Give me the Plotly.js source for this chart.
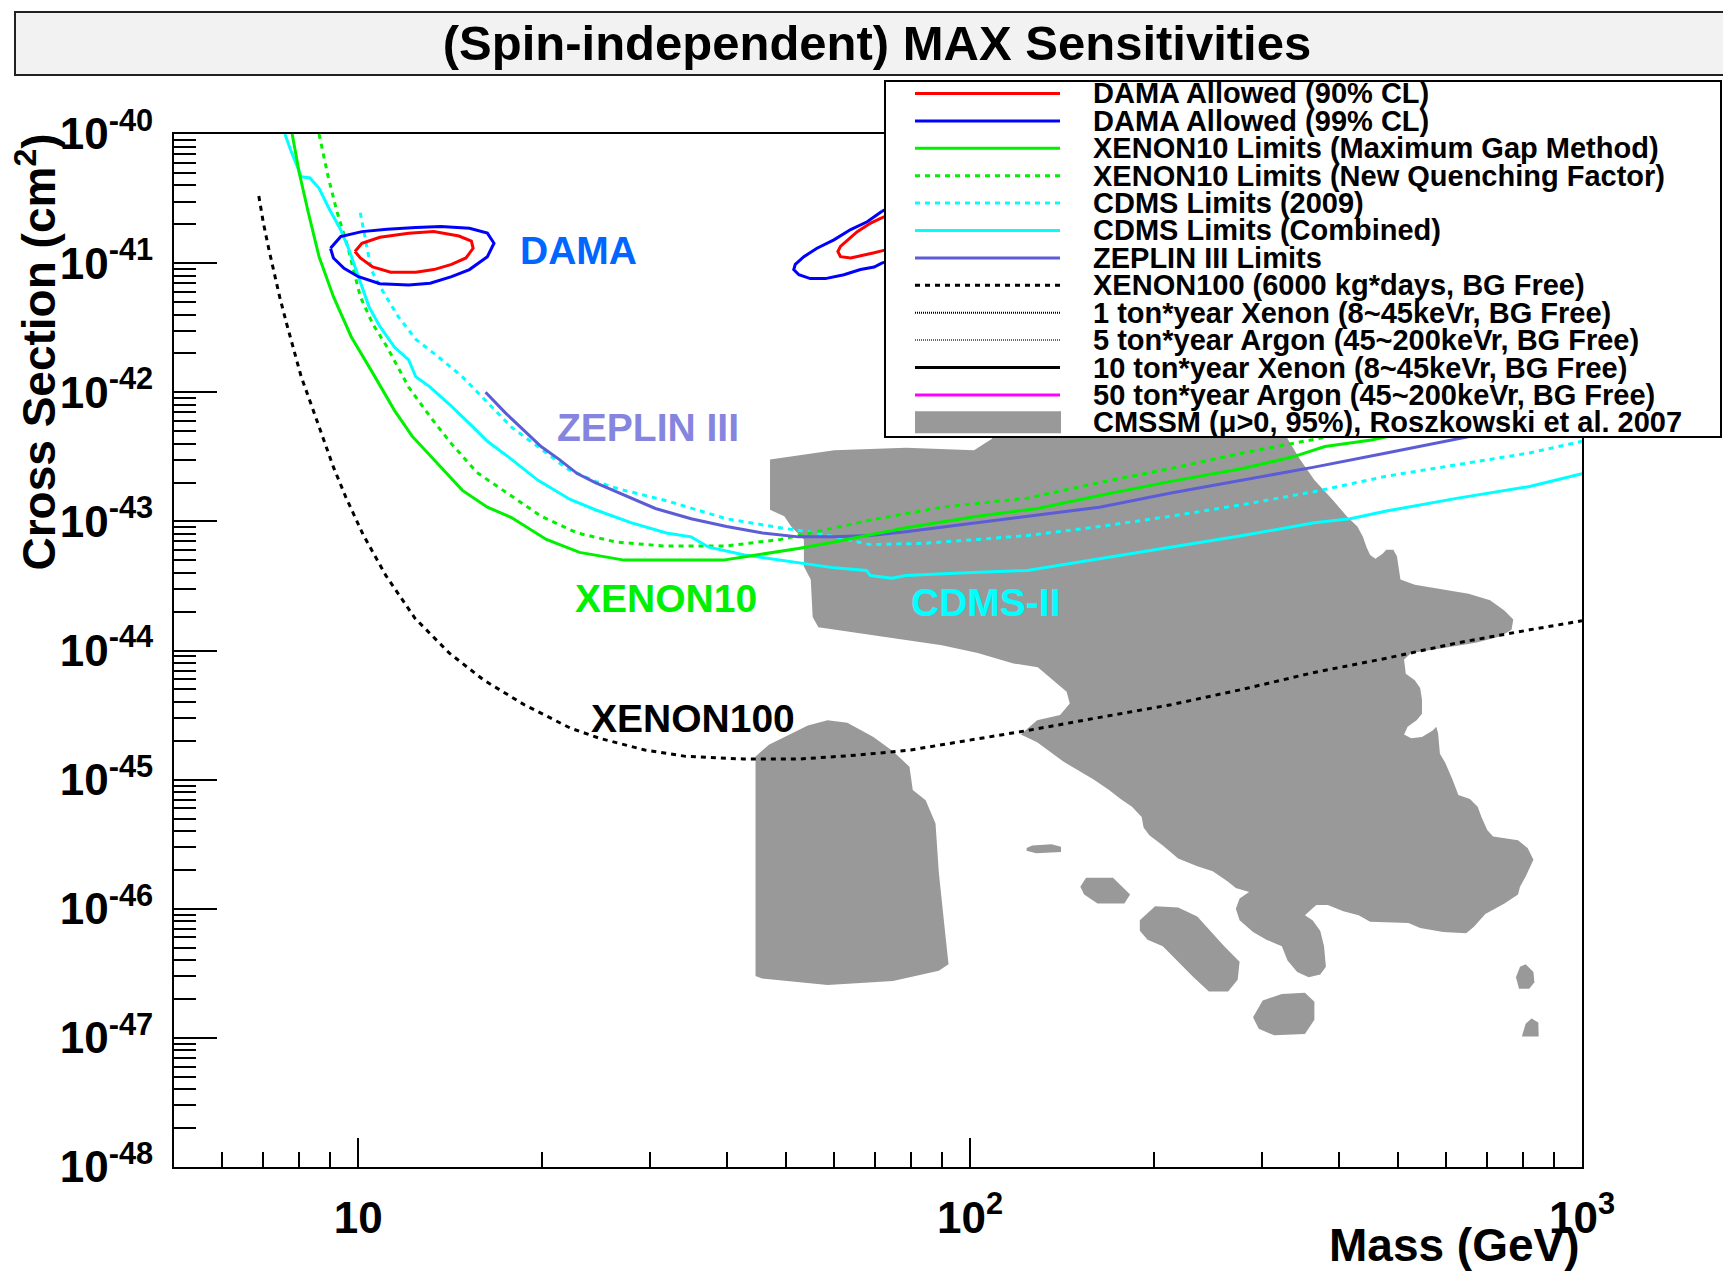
<!DOCTYPE html>
<html><head><meta charset="utf-8">
<script src="https://cdn.plot.ly/plotly-3.0.1.min.js"></script>
<style>html,body{margin:0;padding:0;background:#fff;}#chart{width:1723px;height:1274px;}</style>
</head><body><div id="chart"></div>
<script>
// ===================== DATA (mass in GeV, cross section as log10(cm^2)) =====================
const xTickVals = [10, 100, 1000];
const xTickLabels = ['10', '10<sup>2</sup>', '10<sup>3</sup>'];
const yTickExps = [-48, -47, -46, -45, -44, -43, -42, -41, -40];
const yTickLabels = ['10<sup>-48</sup>', '10<sup>-47</sup>', '10<sup>-46</sup>', '10<sup>-45</sup>', '10<sup>-44</sup>',
                     '10<sup>-43</sup>', '10<sup>-42</sup>', '10<sup>-41</sup>', '10<sup>-40</sup>'];

// DAMA allowed regions (low-mass island)
const damaLow90Mass = [9.88, 10.14, 10.85, 12.09, 13.29, 14.61, 15.31, 15.41, 15.0, 14.21, 13.29, 12.42, 11.3, 10.56, 10.08, 9.88];
const damaLow90LogSigma = [-40.91, -40.846, -40.80, -40.768, -40.756, -40.79, -40.83, -40.885, -40.96, -41.01, -41.05, -41.07, -41.07, -41.03, -40.96, -40.91];
const damaLow99Mass = [9.01, 9.36, 10.14, 11.15, 12.42, 13.65, 15.2, 16.26, 16.67, 16.26, 15.2, 14.21, 13.11, 12.09, 10.85, 10.01, 9.48, 9.11, 9.01];
const damaLow99LogSigma = [-40.885, -40.795, -40.756, -40.737, -40.725, -40.717, -40.73, -40.768, -40.846, -40.95, -41.05, -41.105, -41.156, -41.17, -41.16, -41.105, -41.04, -40.96, -40.885];
// DAMA allowed regions (high-mass island, partly under the legend)
const damaHigh90Mass = [71.7, 68.8, 65.4, 63.0, 61.4, 60.8, 61.4, 63.8, 67.1, 69.7, 71.7, 80, 86, 82, 76, 71.7];
const damaHigh90LogSigma = [-40.65, -40.69, -40.756, -40.82, -40.87, -40.91, -40.95, -40.96, -40.94, -40.92, -40.905, -40.85, -40.70, -40.60, -40.60, -40.65];
const damaHigh99Mass = [71.7, 67.9, 63.8, 59.9, 56.2, 53.5, 51.8, 51.5, 52.5, 54.8, 58.0, 62.2, 66.2, 69.7, 71.7, 82, 92, 95, 88, 78, 71.7];
const damaHigh99LogSigma = [-40.60, -40.68, -40.74, -40.82, -40.885, -40.95, -41.01, -41.05, -41.09, -41.12, -41.12, -41.09, -41.05, -41.03, -41.00, -40.92, -40.75, -40.55, -40.45, -40.52, -40.60];

// XENON10 (maximum gap method)
const xenon10Mass = [7.80, 8.01, 8.29, 8.63, 9.11, 9.74, 10.56, 11.46, 12.25, 13.46, 14.8, 16.26, 17.8, 20.3, 23.0, 27.2, 39.5, 43.4, 52.4, 60.0, 78.5, 102.8, 129, 162.7, 213, 279, 337, 380, 453, 1000];
const xenon10LogSigma = [-40.00, -40.30, -40.61, -40.95, -41.26, -41.57, -41.85, -42.14, -42.34, -42.55, -42.76, -42.89, -42.97, -43.14, -43.24, -43.30, -43.30, -43.27, -43.21, -43.16, -43.05, -42.96, -42.90, -42.80, -42.69, -42.59, -42.50, -42.42, -42.37, -42.01];
// XENON10 (new quenching factor)
const xenon10NqfMass = [8.63, 8.93, 9.23, 9.61, 10.08, 10.56, 11.15, 12.09, 13.11, 14.21, 15.62, 17.6, 19.9, 22.8, 26.4, 31.5, 40.0, 49.0, 56.1, 68.7, 89.9, 124, 162.7, 213, 279, 333, 1000];
const xenon10NqfLogSigma = [-40.00, -40.33, -40.60, -40.87, -41.26, -41.47, -41.65, -41.96, -42.19, -42.40, -42.62, -42.79, -42.96, -43.09, -43.16, -43.19, -43.19, -43.14, -43.08, -42.99, -42.89, -42.82, -42.70, -42.59, -42.47, -42.40, -41.97];
// CDMS (2009)
const cdms2009Mass = [10.08, 10.5, 10.85, 11.61, 12.42, 13.47, 14.8, 15.6, 17.8, 20.3, 21.9, 24.4, 26.7, 31.9, 36.5, 40.0, 49.0, 56.1, 68.7, 84.0, 102.8, 124, 162.7, 213, 279, 365, 479, 627, 821, 1000];
const cdms2009LogSigma = [-40.61, -41.05, -41.18, -41.41, -41.59, -41.72, -41.88, -41.99, -42.27, -42.47, -42.59, -42.69, -42.75, -42.84, -42.92, -42.98, -43.05, -43.09, -43.18, -43.17, -43.14, -43.11, -43.04, -42.96, -42.87, -42.77, -42.65, -42.56, -42.47, -42.38];
// CDMS (combined)
const cdmsCombMass = [7.59, 7.75, 8.07, 8.34, 8.63, 8.99, 9.36, 9.67, 10.0, 10.42, 10.85, 11.46, 12.09, 12.42, 13.11, 14.21, 15.41, 16.26, 17.7, 19.65, 22.2, 24.4, 27.9, 31.9, 35.0, 37.4, 42.8, 52.4, 60.0, 67.7, 68.7, 74.5, 78.5, 96.2, 117.8, 124, 162.7, 213, 279, 365, 418, 479, 627, 821, 1000];
const cdmsCombLogSigma = [-40.00, -40.12, -40.33, -40.34, -40.42, -40.59, -40.74, -40.90, -41.10, -41.34, -41.49, -41.65, -41.75, -41.88, -41.96, -42.11, -42.27, -42.38, -42.51, -42.68, -42.83, -42.91, -43.01, -43.09, -43.12, -43.20, -43.26, -43.32, -43.36, -43.38, -43.42, -43.44, -43.42, -43.40, -43.38, -43.38, -43.29, -43.20, -43.11, -43.01, -42.98, -42.92, -42.82, -42.73, -42.63];
// ZEPLIN III
const zeplinMass = [16.15, 17.4, 18.6, 19.9, 21.3, 22.8, 24.4, 26.7, 30.6, 35.0, 40.0, 45.8, 52.4, 60.0, 68.7, 78.5, 102.8, 124, 162.7, 213, 279, 365, 479, 610, 1000];
const zeplinLogSigma = [-42.00, -42.16, -42.29, -42.42, -42.52, -42.63, -42.70, -42.78, -42.90, -42.98, -43.04, -43.09, -43.12, -43.12, -43.11, -43.08, -43.01, -42.96, -42.89, -42.78, -42.68, -42.58, -42.47, -42.37, -42.17];
// XENON100 projection (6000 kg*days)
const xenon100Mass = [6.88, 7.0, 7.15, 7.29, 7.44, 7.64, 7.85, 8.07, 8.40, 8.74, 9.11, 9.54, 10.18, 11.1, 12.38, 14.09, 16.05, 18.68, 22.2, 24.8, 29.4, 34.3, 42.6, 52.8, 65.6, 80, 95.7, 124, 162, 213, 279, 365, 479, 627, 821, 1000];
const xenon100LogSigma = [-40.48, -40.69, -40.90, -41.08, -41.26, -41.47, -41.67, -41.88, -42.11, -42.34, -42.58, -42.81, -43.10, -43.42, -43.75, -44.02, -44.23, -44.42, -44.60, -44.68, -44.77, -44.82, -44.84, -44.84, -44.81, -44.77, -44.71, -44.62, -44.52, -44.42, -44.30, -44.17, -44.06, -43.94, -43.84, -43.77];

// CMSSM (mu>0, 95%) regions, Roszkowski et al. 2007
const cmssmMainMass = [47.1, 50.4, 56.1, 60.0, 78.6, 101.5, 108.6, 112, 320, 330.2, 346.2, 365.3, 390.8, 412.6, 429.5, 438.5, 444.5, 450.6, 459.6, 472.2, 478.6, 491.7, 498.4, 501.6, 505, 533, 585.9, 652.7, 707.6, 746.6, 772.2, 767.1, 736.6, 670.1, 593.8, 525.9, 511.9, 515.3, 533, 543.9, 547.6, 547.6, 536.7, 518.8, 511.9, 525.9, 547.6, 570.2, 577.9, 581.8, 585.9, 597.7, 614.2, 628, 656, 675.3, 685, 700, 715.6, 786, 815, 833, 809, 792, 786, 747, 695, 665.9, 646.7, 592.9, 543.8, 520.6, 450.6, 431.5, 407.3, 384.2, 367.9, 352.5, 362.8, 373.4, 378.8, 381.5, 373.4, 357.6, 342.4, 330.2, 323.2, 305, 290, 275.7, 271.8, 275.7, 285.8, 271.8, 264, 249.2, 235.1, 218.8, 206.5, 196.3, 192.1, 190.7, 183.9, 176.2, 168.7, 159.2, 142, 128.7, 121, 128.7, 140.3, 145.5, 143.8, 135.2, 129, 117.7, 102.9, 89.9, 78.6, 68.7, 60.0, 56.5, 55.3, 54.9, 53.5, 53.5, 51.0, 49.7, 47.1];
const cmssmMainLogSigma = [-42.52, -42.50, -42.47, -42.45, -42.43, -42.45, -42.36, -42.15, -42.15, -42.36, -42.52, -42.68, -42.83, -42.96, -43.04, -43.12, -43.20, -43.26, -43.29, -43.25, -43.22, -43.22, -43.27, -43.38, -43.45, -43.49, -43.52, -43.56, -43.61, -43.69, -43.76, -43.84, -43.89, -43.94, -43.98, -44.02, -44.07, -44.18, -44.23, -44.29, -44.38, -44.49, -44.54, -44.59, -44.65, -44.68, -44.67, -44.62, -44.59, -44.64, -44.80, -44.87, -45.00, -45.12, -45.15, -45.21, -45.29, -45.39, -45.44, -45.47, -45.53, -45.62, -45.75, -45.83, -45.89, -45.96, -46.04, -46.14, -46.19, -46.18, -46.15, -46.11, -46.10, -46.05, -46.02, -45.97, -45.97, -46.05, -46.09, -46.17, -46.29, -46.45, -46.51, -46.53, -46.49, -46.40, -46.29, -46.24, -46.18, -46.09, -46.00, -45.92, -45.87, -45.84, -45.79, -45.71, -45.67, -45.61, -45.51, -45.43, -45.37, -45.29, -45.21, -45.15, -45.08, -45.00, -44.86, -44.71, -44.65, -44.54, -44.50, -44.41, -44.32, -44.21, -44.13, -44.10, -44.02, -43.96, -43.92, -43.88, -43.84, -43.82, -43.74, -43.45, -43.35, -43.14, -43.04, -42.96, -42.91];
const cmssmTowerMass = [44.6, 46.9, 54.3, 58.5, 63.0, 69.5, 74.8, 79.6, 80.6, 84.6, 87.8, 88.9, 91.1, 92.2, 88.9, 74.8, 58.5, 45.7, 44.6];
const cmssmTowerLogSigma = [-44.82, -44.73, -44.58, -44.54, -44.56, -44.67, -44.78, -44.90, -45.08, -45.16, -45.34, -45.72, -46.20, -46.43, -46.48, -46.56, -46.59, -46.54, -46.52];
const cmssmIslandAMass = [123.7, 126.4, 135.8, 140.8, 140.8, 128.2, 123.7];
const cmssmIslandALogSigma = [-45.53, -45.51, -45.50, -45.52, -45.56, -45.57, -45.55];
const cmssmIslandBMass = [151.4, 154.7, 171.2, 182.6, 178.7, 161.5, 153.6];
const cmssmIslandBLogSigma = [-45.83, -45.76, -45.76, -45.89, -45.96, -45.96, -45.89];
const cmssmIslandCMass = [189.4, 200.6, 218.8, 235.1, 260.2, 275.7, 273.7, 264, 245.6, 231.8, 206.5, 195, 189.4];
const cmssmIslandCLogSigma = [-46.09, -45.98, -45.99, -46.06, -46.29, -46.41, -46.55, -46.64, -46.64, -46.53, -46.29, -46.24, -46.17];
const cmssmIslandDMass = [290, 300.7, 323.2, 352.5, 365.3, 365.3, 352.5, 313.9, 296.3];
const cmssmIslandDLogSigma = [-46.84, -46.71, -46.66, -46.65, -46.72, -46.86, -46.97, -46.98, -46.93];
const cmssmIslandEMass = [780, 792, 809, 833, 836, 820, 789];
const cmssmIslandELogSigma = [-46.53, -46.45, -46.43, -46.49, -46.57, -46.62, -46.62];
const cmssmIslandFMass = [797.5, 809, 827, 848.5, 849.5];
const cmssmIslandFLogSigma = [-46.99, -46.89, -46.85, -46.88, -46.99];

// Legend entries
const legendLabels = [
  'DAMA Allowed (90% CL)',
  'DAMA Allowed (99% CL)',
  'XENON10 Limits (Maximum Gap Method)',
  'XENON10 Limits (New Quenching Factor)',
  'CDMS Limits (2009)',
  'CDMS Limits (Combined)',
  'ZEPLIN III Limits',
  'XENON100 (6000 kg*days, BG Free)',
  '1 ton*year Xenon (8~45keVr, BG Free)',
  '5 ton*year Argon (45~200keVr, BG Free)',
  '10 ton*year Xenon (8~45keVr, BG Free)',
  '50 ton*year Argon (45~200keVr, BG Free)',
  'CMSSM (\u03bc>0, 95%), Roszkowski et al. 2007'
];
// ===================== STYLES / LAYOUT =====================
const C = {red:'#ff0000', blue:'#0000ff', green:'#00f000', cyan:'#00ffff', zeplin:'#5c5cd6', black:'#000000', magenta:'#ff00ff', gray:'#999999'};
const DOTS = '5px,5px';
const legendStyles = [
  {color:C.red, dash:'solid', width:3},
  {color:C.blue, dash:'solid', width:3},
  {color:C.green, dash:'solid', width:3},
  {color:C.green, dash:DOTS, width:3},
  {color:C.cyan, dash:DOTS, width:3},
  {color:C.cyan, dash:'solid', width:3},
  {color:C.zeplin, dash:'solid', width:3},
  {color:C.black, dash:DOTS, width:3},
  {color:C.black, dash:'1px,1px', width:2},
  {color:C.magenta, dash:'1px,1px', width:2},
  {color:C.black, dash:'solid', width:3},
  {color:C.magenta, dash:'solid', width:3},
  {box:true, color:C.gray}
];

const pow10 = a => a.map(v => Math.pow(10, v));
function curve(m, ls, color, dash) {
  return {x:m, y:pow10(ls), type:'scatter', mode:'lines', hoverinfo:'skip', showlegend:false,
          line:{color:color, width:3, dash:dash || 'solid'}};
}
function region(m, ls) {
  return {x:m, y:pow10(ls), type:'scatter', mode:'lines', fill:'toself', fillcolor:C.gray, hoverinfo:'skip',
          showlegend:false, line:{color:C.gray, width:0}};
}

const traces = [
  region(cmssmMainMass, cmssmMainLogSigma),
  region(cmssmTowerMass, cmssmTowerLogSigma),
  region(cmssmIslandAMass, cmssmIslandALogSigma),
  region(cmssmIslandBMass, cmssmIslandBLogSigma),
  region(cmssmIslandCMass, cmssmIslandCLogSigma),
  region(cmssmIslandDMass, cmssmIslandDLogSigma),
  region(cmssmIslandEMass, cmssmIslandELogSigma),
  region(cmssmIslandFMass, cmssmIslandFLogSigma),
  curve(xenon100Mass, xenon100LogSigma, C.black, DOTS),
  curve(cdms2009Mass, cdms2009LogSigma, C.cyan, DOTS),
  curve(xenon10NqfMass, xenon10NqfLogSigma, C.green, DOTS),
  curve(cdmsCombMass, cdmsCombLogSigma, C.cyan),
  curve(zeplinMass, zeplinLogSigma, C.zeplin),
  curve(xenon10Mass, xenon10LogSigma, C.green),
  curve(damaLow99Mass, damaLow99LogSigma, C.blue),
  curve(damaLow90Mass, damaLow90LogSigma, C.red),
  curve(damaHigh99Mass, damaHigh99LogSigma, C.blue),
  curve(damaHigh90Mass, damaHigh90LogSigma, C.red)
];

// pixel -> paper helpers (plot area: x 174..1582, y 134..1167)
const PL = 174, PR = 1582, PT = 134, PB = 1167;
const px = v => (v - PL) / (PR - PL);
const py = v => (PB - v) / (PB - PT);

const shapes = [];
const annotations = [];
// title box
shapes.push({type:'rect', xref:'paper', yref:'paper', x0:px(15), x1:px(1760), y0:py(75), y1:py(12),
             fillcolor:'#f2f2f2', line:{color:'#222', width:2}, layer:'above'});
// legend box
shapes.push({type:'rect', xref:'paper', yref:'paper', x0:px(885), x1:px(1721), y0:py(437), y1:py(81),
             fillcolor:'#ffffff', line:{color:'#000', width:2}, layer:'above'});
legendLabels.forEach((lab, i) => {
  const yc = 93.5 + 27.4 * i;
  const st = legendStyles[i];
  if (st.box) {
    shapes.push({type:'rect', xref:'paper', yref:'paper', x0:px(915), x1:px(1061), y0:py(yc + 11), y1:py(yc - 11),
                 fillcolor:st.color, line:{width:0}, layer:'above'});
  } else {
    shapes.push({type:'line', xref:'paper', yref:'paper', x0:px(915), x1:px(1060), y0:py(yc), y1:py(yc),
                 line:{color:st.color, width:st.width, dash:st.dash}, layer:'above'});
  }
  annotations.push({xref:'paper', yref:'paper', x:px(1091), y:py(yc), xanchor:'left', yanchor:'middle',
                    text:'<b>' + lab + '</b>', showarrow:false, font:{size:29, color:'#000'}});
});
// in-plot labels (positions in log10 axis units)
const L = Math.log10;
annotations.push({x:L(22.9), y:-40.90, text:'<b>DAMA</b>', showarrow:false, font:{size:39, color:'#0066ff'}});
annotations.push({x:L(29.8), y:-42.27, text:'<b>ZEPLIN III</b>', showarrow:false, font:{size:39, color:'#8585e0'}});
annotations.push({x:L(31.8), y:-43.60, text:'<b>XENON10</b>', showarrow:false, font:{size:39, color:'#00f000'}});
annotations.push({x:L(106), y:-43.63, text:'<b>CDMS-II</b>', showarrow:false, font:{size:39, color:'#00ffff'}});
annotations.push({x:L(35.2), y:-44.53, text:'<b>XENON100</b>', showarrow:false, font:{size:39, color:'#000'}});
// axis titles (ROOT style, aligned to the end of the axis)
annotations.push({xref:'paper', yref:'paper', x:1.0, y:py(1245), xanchor:'right', yanchor:'middle',
                  text:'<b>Mass (GeV)</b>', showarrow:false, font:{size:46, color:'#000'}});
annotations.push({xref:'paper', yref:'paper', x:px(36), y:py(132), xanchor:'center', yanchor:'top', textangle:-90,
                  text:'<b>Cross Section (cm<sup>2</sup>)</b>', showarrow:false, font:{size:46, color:'#000'}});

const xMinor = [];
[1, 10, 100].forEach(d => { for (let k = 2; k <= 9; k++) { const v = k * d; if (v > 5 && v < 1000) xMinor.push(v); } });
const yMinor = [];
for (let e = -48; e < -40; e++) { for (let k = 2; k <= 9; k++) yMinor.push(k * Math.pow(10, e)); }

const layout = {
  width:1723, height:1274,
  margin:{l:PL, r:1723 - PR, t:PT, b:1274 - PB, pad:0},
  paper_bgcolor:'#ffffff', plot_bgcolor:'#ffffff',
  font:{family:'Liberation Sans, Arial, Helvetica, sans-serif', color:'#000'},
  title:{text:'<b>(Spin-independent) MAX Sensitivities</b>', font:{size:49, color:'#000'},
         x:877 / 1723, xanchor:'center', xref:'container', y:1 - 43 / 1274, yanchor:'middle', yref:'container'},
  showlegend:false, hovermode:false,
  xaxis:{type:'log', range:[Math.log10(5), 3], showgrid:false, zeroline:false,
         showline:true, mirror:true, linecolor:'#000', linewidth:2,
         ticks:'inside', ticklen:29, tickwidth:2, tickcolor:'#000',
         tickmode:'array', tickvals:xTickVals, ticktext:xTickLabels.map(t => '<b>' + t + '</b>'),
         tickfont:{size:44, color:'#000'}, ticklabelstandoff:11,
         minor:{tickmode:'array', tickvals:xMinor, ticks:'inside', ticklen:15, tickwidth:2, tickcolor:'#000', showgrid:false}},
  yaxis:{type:'log', range:[-48, -40], showgrid:false, zeroline:false,
         showline:true, mirror:true, linecolor:'#000', linewidth:2,
         ticks:'inside', ticklen:43, tickwidth:2, tickcolor:'#000',
         tickmode:'array', tickvals:yTickExps.map(e => Math.pow(10, e)), ticktext:yTickLabels.map(t => '<b>' + t + '</b>'),
         tickfont:{size:44, color:'#000'}, ticklabelstandoff:10,
         minor:{tickmode:'array', tickvals:yMinor, ticks:'inside', ticklen:22, tickwidth:2, tickcolor:'#000', showgrid:false}},
  shapes:shapes, annotations:annotations
};

Plotly.newPlot('chart', traces, layout, {staticPlot:true, displayModeBar:false});
</script>
</body></html>
